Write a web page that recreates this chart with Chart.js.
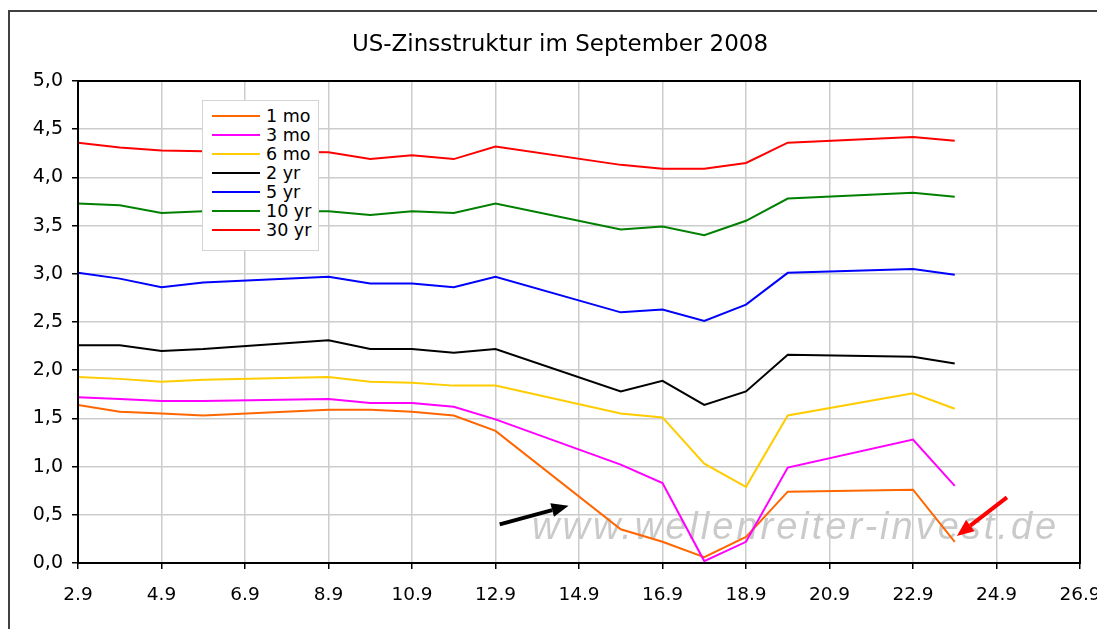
<!DOCTYPE html>
<html lang="de">
<head>
<meta charset="UTF-8">
<title>US-Zinsstruktur im September 2008</title>
<script src="https://cdn.jsdelivr.net/npm/chart.js@4.4.7/dist/chart.umd.min.js"></script>
<style>
*{margin:0;padding:0;box-sizing:border-box}
body{background:#fff;width:1097px;height:629px;overflow:hidden;font-family:"DejaVu Sans",sans-serif}
#wrap{position:relative;width:1097px;height:629px;overflow:hidden}
#frame{position:absolute;left:8px;top:10px;width:1200px;height:700px;border:2px solid #404040}
#title{position:absolute;left:0;top:30px;width:1120px;text-align:center;font-size:23px;line-height:26px;color:#000}
#mark{position:absolute;left:532px;top:507px;font:italic 38px/38px "Liberation Sans",Arial,sans-serif;letter-spacing:3px;color:rgba(150,150,150,.5);filter:blur(.6px);white-space:nowrap}
canvas{position:absolute;left:0;top:0}
#legend{position:absolute;left:202px;top:100px;width:117px;height:151px;background:#fff;border:1px solid #d4d4d4;padding-top:5px}
.row{display:flex;align-items:center;height:19px;font-size:17.5px;color:#000}
.row i{display:block;width:48px;height:2px;margin-left:9px;margin-right:6px}
</style>
</head>
<body>
<div id="wrap">
<div id="frame"></div>
<div id="mark">www.wellenreiter-invest.de</div>
<canvas id="c" width="1120" height="629"></canvas>
<div id="title">US-Zinsstruktur im September 2008</div>
<div id="legend"></div>
</div>
<script>
// Handelstage im September 2008
var days = [2,3,4,5,8,9,10,11,12,15,16,17,18,19,22,23];
var seriesNames = ["1 mo","3 mo","6 mo","2 yr","5 yr","10 yr","30 yr"];
var seriesColors = ["#ff6600","#ff00ff","#ffcc00","#000000","#0000ff","#008000","#ff0000"];

var mo1  = [1.64,1.57,1.55,1.53,1.59,1.59,1.57,1.53,1.37,0.35,0.22,0.06,0.27,0.74,0.76,0.22];
var mo3  = [1.72,1.70,1.68,1.68,1.70,1.66,1.66,1.62,1.49,1.02,0.83,0.02,0.22,0.99,1.28,0.80];
var mo6  = [1.93,1.91,1.88,1.90,1.93,1.88,1.87,1.84,1.84,1.55,1.51,1.03,0.79,1.53,1.76,1.60];
var yr2  = [2.26,2.26,2.20,2.22,2.31,2.22,2.22,2.18,2.22,1.78,1.89,1.64,1.78,2.16,2.14,2.07];
var yr5  = [3.01,2.95,2.86,2.91,2.97,2.90,2.90,2.86,2.97,2.60,2.63,2.51,2.68,3.01,3.05,2.99];
var yr10 = [3.73,3.71,3.63,3.65,3.65,3.61,3.65,3.63,3.73,3.46,3.49,3.40,3.55,3.78,3.84,3.80];
var yr30 = [4.36,4.31,4.28,4.27,4.26,4.19,4.23,4.19,4.32,4.13,4.09,4.09,4.15,4.36,4.42,4.38];

var xTicks = {min: 2, max: 26, step: 2};
var yTicks = {min: 0, max: 5, step: 0.5};

// Pfeile (Anmerkungen) in Datenkoordinaten: [Tag, Wert] von -> nach
var arrows = [
  {from: [12.1, 0.40], to: [13.75, 0.595], color: "#000000"},
  {from: [24.25, 0.68], to: [23.05, 0.28], color: "#ff0000"}
];

var all = [mo1, mo3, mo6, yr2, yr5, yr10, yr30];
var datasets = all.map(function (vals, i) {
  return {
    label: seriesNames[i],
    data: vals.map(function (v, j) { return {x: days[j], y: v}; }),
    borderColor: seriesColors[i],
    backgroundColor: seriesColors[i],
    borderWidth: 2,
    pointRadius: 0,
    tension: 0,
    order: 6 - i
  };
});

var boxPlugin = {
  id: "box",
  afterDatasetsDraw: function (chart) {
    var a = chart.chartArea, ctx = chart.ctx;
    ctx.save();
    ctx.strokeStyle = "#000";
    ctx.lineWidth = 2;
    ctx.strokeRect(a.left, a.top, a.right - a.left, a.bottom - a.top);
    var xs = chart.scales.x, ys = chart.scales.y;
    arrows.forEach(function (ar) {
      var x1 = xs.getPixelForValue(ar.from[0]), y1 = ys.getPixelForValue(ar.from[1]);
      var x2 = xs.getPixelForValue(ar.to[0]), y2 = ys.getPixelForValue(ar.to[1]);
      var ang = Math.atan2(y2 - y1, x2 - x1), head = 17, half = 7;
      var bx = x2 - head * Math.cos(ang), by = y2 - head * Math.sin(ang);
      ctx.strokeStyle = ar.color; ctx.fillStyle = ar.color; ctx.lineWidth = 4;
      ctx.beginPath(); ctx.moveTo(x1, y1); ctx.lineTo(bx, by); ctx.stroke();
      ctx.beginPath();
      ctx.moveTo(x2, y2);
      ctx.lineTo(bx + half * Math.sin(ang), by - half * Math.cos(ang));
      ctx.lineTo(bx - half * Math.sin(ang), by + half * Math.cos(ang));
      ctx.closePath(); ctx.fill();
    });
    ctx.restore();
  }
};

var chart = new Chart(document.getElementById("c"), {
  type: "line",
  data: {datasets: datasets},
  plugins: [boxPlugin],
  options: {
    responsive: false,
    animation: false,
    devicePixelRatio: 1,
    layout: {padding: {left: 8, right: 40, top: 81, bottom: 16}},
    plugins: {legend: {display: false}, title: {display: false}, tooltip: {enabled: false}},
    scales: {
      x: {
        type: "linear", min: xTicks.min, max: xTicks.max,
        afterFit: function (s) { s.height = 50; },
        ticks: {stepSize: xTicks.step, color: "#000", padding: 15, maxRotation: 0,
          font: {family: "DejaVu Sans", size: 18.5},
          callback: function (v) { return v + ".9"; }},
        grid: {color: "#cccccc", lineWidth: 1.5, tickLength: 6, tickColor: "#000"},
        border: {color: "#000", width: 2}
      },
      y: {
        min: yTicks.min, max: yTicks.max,
        afterFit: function (s) { s.width = 70; },
        ticks: {stepSize: yTicks.step, color: "#000", padding: 9,
          font: {family: "DejaVu Sans", size: 19},
          callback: function (v) { return v.toFixed(1).replace(".", ","); }},
        grid: {color: "#cccccc", lineWidth: 1.5, tickLength: 6, tickColor: "#000"},
        border: {color: "#000", width: 2}
      }
    }
  }
});

var lg = document.getElementById("legend");
chart.data.datasets.forEach(function (d) {
  var r = document.createElement("div");
  r.className = "row";
  var sw = document.createElement("i");
  sw.style.background = d.borderColor;
  r.appendChild(sw);
  r.appendChild(document.createTextNode(d.label));
  lg.appendChild(r);
});
</script>
</body>
</html>
